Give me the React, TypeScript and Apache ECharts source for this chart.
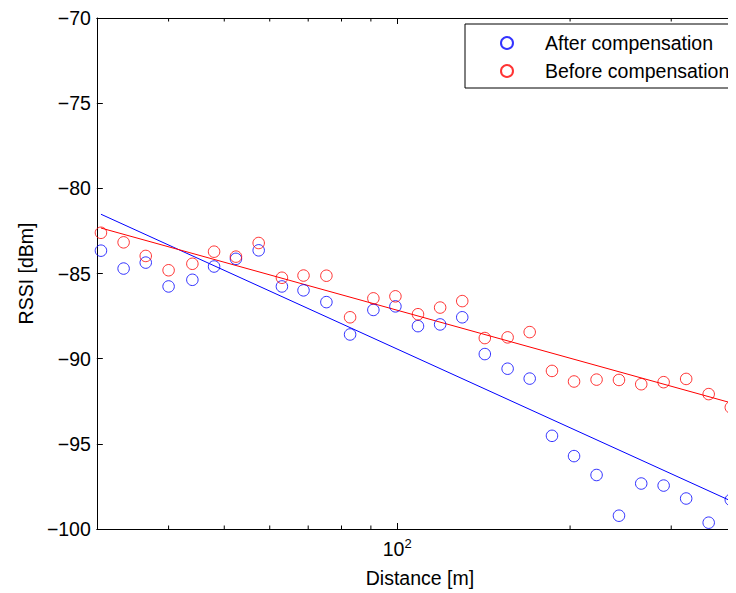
import React, { useEffect, useRef } from "react";
import * as echarts from "echarts";

const distances = [30.5, 33.4, 36.5, 40.0, 44.0, 48.0, 52.4, 57.4, 63.0, 68.7, 75.3, 82.8, 90.9, 99.3, 108.7, 118.8, 129.8, 142.1, 155.7, 170.1, 186.0, 203.2, 222.4, 243.3, 266.0, 291.0, 318.5, 348.6, 380.9];
const rssiAfter = [-83.66, -84.71, -84.36, -85.76, -85.37, -84.59, -84.14, -83.64, -85.76, -85.99, -86.68, -88.58, -87.14, -86.93, -88.09, -87.99, -87.57, -89.73, -90.59, -91.17, -94.53, -95.72, -96.83, -99.22, -97.33, -97.45, -98.21, -99.63, -98.29];
const rssiBefore = [-82.61, -83.17, -83.97, -84.81, -84.43, -83.72, -84.01, -83.21, -85.25, -85.12, -85.13, -87.57, -86.46, -86.34, -87.39, -87.0, -86.62, -88.79, -88.75, -88.44, -90.72, -91.34, -91.23, -91.25, -91.5, -91.38, -91.19, -92.08, -92.86];
const fitAfter = [[30.5, -81.52], [380.9, -98.35]];
const fitBefore = [[30.5, -82.33], [380.9, -92.59]];
const minorTicks = [40, 50, 60, 70, 80, 90, 200, 300];
const seriesNames = ["After compensation", "Before compensation"];

const FONT = "'Liberation Sans', Arial, Helvetica, sans-serif";
const FS = 19.5;
const BLUE = "#0000ff";
const RED = "#ff0000";

export default function App() {
  const ref = useRef<HTMLDivElement>(null);
  useEffect(() => {
    const chart = echarts.init(ref.current!, null, { renderer: "svg" });
    const baseAxis = {
      type: "log" as const,
      logBase: 10,
      min: 30,
      max: 400,
      splitLine: { show: false },
      axisLine: { show: true, onZero: false, lineStyle: { color: "#000", width: 1 } },
      axisTick: { show: true, inside: true, length: 6, lineStyle: { color: "#000", width: 1 } },
    };
    chart.setOption({
      animation: false,
      backgroundColor: "#fff",
      textStyle: { fontFamily: FONT },
      grid: { left: 84, top: 8, bottom: 63, right: 25 },
      legend: {
        data: seriesNames,
        orient: "vertical",
        left: 457,
        top: 16,
        padding: [9, 12, 7, 35],
        itemGap: 8,
        itemWidth: 66,
        itemHeight: 12,
        borderColor: "#000",
        borderWidth: 1,
        borderRadius: 0,
        backgroundColor: "#fff",
        textStyle: { fontFamily: FONT, fontSize: FS, color: "#000", lineHeight: 20 },
      },
      xAxis: [
        {
          ...baseAxis,
          position: "bottom",
          name: "Distance [m]",
          nameLocation: "middle",
          nameGap: 39,
          nameTextStyle: { fontFamily: FONT, fontSize: FS, color: "#000" },
          axisLabel: {
            show: true,
            margin: 8,
            color: "#000",
            formatter: (v: number) => (Math.abs(v - 100) < 1e-6 ? "{b|10}{s|2}" : ""),
            rich: {
              b: { fontFamily: FONT, fontSize: FS, lineHeight: 22, padding: [5, 0, 0, 0], verticalAlign: "bottom", color: "#000" },
              s: { fontFamily: FONT, fontSize: 13, lineHeight: 13, verticalAlign: "top", color: "#000" },
            },
          },
        },
        {
          ...baseAxis,
          position: "top",
          axisLabel: { show: false },
        },
      ],
      yAxis: {
        type: "value",
        min: -100,
        max: -70,
        interval: 5,
        name: "RSSI [dBm]",
        nameLocation: "middle",
        nameGap: 60,
        nameRotate: 90,
        nameTextStyle: { fontFamily: FONT, fontSize: FS, color: "#000" },
        splitLine: { show: false },
        axisLine: { show: true, onZero: false, lineStyle: { color: "#000", width: 1 } },
        axisTick: { show: true, inside: true, length: 6, lineStyle: { color: "#000", width: 1 } },
        axisLabel: {
          margin: 6,
          color: "#000",
          fontFamily: FONT,
          fontSize: FS,
          formatter: (v: number) => (v < 0 ? "\u2212" + Math.abs(v) : String(v)),
        },
      },
      series: [
        {
          name: seriesNames[0],
          type: "scatter",
          symbol: "circle",
          symbolSize: 11.5,
          itemStyle: { color: "rgba(0,0,0,0)", borderColor: BLUE, borderWidth: 1 },
          data: distances.map((d, i) => [d, rssiAfter[i]]),
          clip: true,
          z: 3,
        },
        {
          name: seriesNames[1],
          type: "scatter",
          symbol: "circle",
          symbolSize: 11.5,
          itemStyle: { color: "rgba(0,0,0,0)", borderColor: RED, borderWidth: 1 },
          data: distances.map((d, i) => [d, rssiBefore[i]]),
          clip: true,
          z: 3,
        },
        {
          name: "fitAfter",
          type: "line",
          data: fitAfter,
          showSymbol: false,
          symbol: "none",
          lineStyle: { color: BLUE, width: 1 },
          itemStyle: { color: BLUE },
          z: 2,
        },
        {
          name: "fitBefore",
          type: "line",
          data: fitBefore,
          showSymbol: false,
          symbol: "none",
          lineStyle: { color: RED, width: 1 },
          itemStyle: { color: RED },
          z: 2,
        },
        {
          name: "minorTicks",
          type: "custom",
          silent: true,
          clip: false,
          data: minorTicks.map((v) => [v, -100]),
          encode: { x: 0, y: 1 },
          renderItem: (_params: any, api: any) => {
            const v = api.value(0);
            const b = api.coord([v, -100]);
            const t = api.coord([v, -70]);
            const st = { stroke: "#000", lineWidth: 1 };
            return {
              type: "group",
              children: [
                { type: "line", shape: { x1: b[0], y1: b[1], x2: b[0], y2: b[1] - 3.5 }, style: st },
                { type: "line", shape: { x1: t[0], y1: t[1], x2: t[0], y2: t[1] + 3.5 }, style: st },
              ],
            };
          },
          z: 4,
        },
      ],
    });
    return () => chart.dispose();
  }, []);
  return (
    <div style={{ width: 728, height: 585, overflow: "hidden" }}>
      <div ref={ref} style={{ width: 760, height: 585 }} />
    </div>
  );
}
